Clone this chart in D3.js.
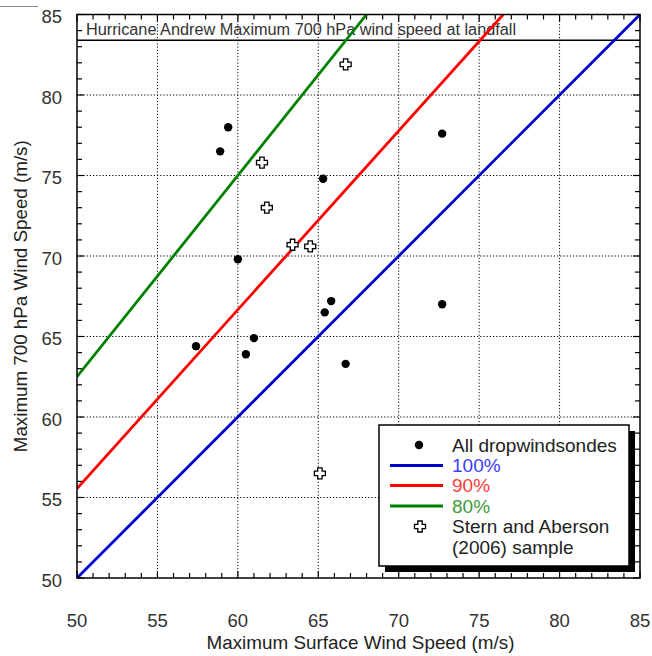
<!DOCTYPE html>
<html><head><meta charset="utf-8">
<script src="https://cdn.jsdelivr.net/npm/d3@7"></script>
<style>
html,body{margin:0;padding:0;background:#fff;}
svg{display:block;font-family:"Liberation Sans",Arial,sans-serif;}
</style></head>
<body><svg id="c" width="652" height="656"></svg>
<script>
// ---- data ----
const dropSurface = [57.4, 58.9, 59.4, 60.0, 60.5, 61.0, 65.3, 65.4, 65.8, 66.7, 72.7, 72.7];
const drop700     = [64.4, 76.5, 78.0, 69.8, 63.9, 64.9, 74.8, 66.5, 67.2, 63.3, 77.6, 67.0];
const sternSurface = [61.5, 61.8, 63.4, 64.5, 66.7, 65.1];
const stern700     = [75.8, 73.0, 70.7, 70.6, 81.9, 56.5];
const ratioValues = [1.0, 0.9, 0.8];
const ratioLabels = ["100%", "90%", "80%"];
const ratioColors = ["#0000cc", "#ff0000", "#008000"];
const ratioTextColors = ["#3c3cff", "#ff3c3c", "#3c9c3c"];
const andrewMax = 83.4;
const andrewLabel = "Hurricane Andrew Maximum 700 hPa wind speed at landfall";
const xTicks = [50, 55, 60, 65, 70, 75, 80, 85];
const yTicks = [50, 55, 60, 65, 70, 75, 80, 85];
const xTitle = "Maximum Surface Wind Speed (m/s)";
const yTitle = "Maximum 700 hPa Wind Speed (m/s)";
const legendLabels = ["All dropwindsondes", "Stern and Aberson", "(2006) sample"];

// ---- layout ----
const L = 77, R = 640, T = 14.5, B = 578;
const svg = d3.select("#c");
const x = d3.scaleLinear().domain([50, 85]).range([L, R]);
const y = d3.scaleLinear().domain([50, 85]).range([B, T]);

svg.append("defs").append("clipPath").attr("id", "clip")
  .append("rect").attr("x", L).attr("y", T).attr("width", R - L).attr("height", B - T);

// small stray line at top-left of the original image
svg.append("line").attr("x1", 0).attr("x2", 38).attr("y1", 6.5).attr("y2", 6.5)
  .attr("stroke", "#888").attr("stroke-width", 1);

// grid
svg.append("g").selectAll("line").data(xTicks.slice(1, -1)).join("line")
  .attr("x1", d => x(d)).attr("x2", d => x(d)).attr("y1", T).attr("y2", B)
  .attr("stroke", "#000").attr("stroke-width", 1).attr("stroke-dasharray", "1.2,2");
svg.append("g").selectAll("line").data(yTicks.slice(1, -1)).join("line")
  .attr("y1", d => y(d)).attr("y2", d => y(d)).attr("x1", L).attr("x2", R)
  .attr("stroke", "#000").attr("stroke-width", 1).attr("stroke-dasharray", "1.2,2");

// minor/major ticks inward on all sides
const minor = d3.range(50, 86, 1);
const tg = svg.append("g").attr("stroke", "#000").attr("stroke-width", 1.2);
minor.forEach(v => {
  const len = v % 5 === 0 ? 7 : 5;
  tg.append("line").attr("x1", x(v)).attr("x2", x(v)).attr("y1", B).attr("y2", B - len);
  tg.append("line").attr("x1", x(v)).attr("x2", x(v)).attr("y1", T).attr("y2", T + len);
  tg.append("line").attr("y1", y(v)).attr("y2", y(v)).attr("x1", L).attr("x2", L + len);
  tg.append("line").attr("y1", y(v)).attr("y2", y(v)).attr("x1", R).attr("x2", R - len);
});

// Andrew line + label
svg.append("line").attr("x1", L).attr("x2", R).attr("y1", y(andrewMax)).attr("y2", y(andrewMax))
  .attr("stroke", "#000").attr("stroke-width", 1.3);
svg.append("text").attr("x", 86).attr("y", 35).attr("font-size", 16).attr("fill", "#333")
  .attr("textLength", 430).attr("lengthAdjust", "spacingAndGlyphs").text(andrewLabel);

// ratio lines (surface = ratio * 700hPa  => 700 = surface / ratio)
const lg = svg.append("g").attr("clip-path", "url(#clip)");
ratioValues.forEach((r, i) => {
  const xs = [50, Math.min(85, 85 * r)];
  lg.append("line")
    .attr("x1", x(xs[0])).attr("y1", y(xs[0] / r))
    .attr("x2", x(xs[1])).attr("y2", y(xs[1] / r))
    .attr("stroke", ratioColors[i]).attr("stroke-width", 2.8);
});

// plus marker path
function plusPath(cx, cy) {
  const a = 2.2, b = 5.5;
  return `M${cx - a},${cy - b}H${cx + a}V${cy - a}H${cx + b}V${cy + a}H${cx + a}V${cy + b}H${cx - a}V${cy + a}H${cx - b}V${cy - a}H${cx - a}Z`;
}

// dots
svg.append("g").selectAll("circle").data(dropSurface).join("circle")
  .attr("cx", d => x(d)).attr("cy", (d, i) => y(drop700[i])).attr("r", 4.2).attr("fill", "#000");
// crosses
svg.append("g").selectAll("path").data(sternSurface).join("path")
  .attr("d", (d, i) => plusPath(x(d), y(stern700[i])))
  .attr("fill", "#fff").attr("stroke", "#000").attr("stroke-width", 1.3);

// plot border
svg.append("rect").attr("x", L).attr("y", T).attr("width", R - L).attr("height", B - T)
  .attr("fill", "none").attr("stroke", "#000").attr("stroke-width", 1.5);

// tick labels
svg.append("g").selectAll("text").data(xTicks).join("text")
  .attr("x", d => x(d)).attr("y", 627).attr("text-anchor", "middle")
  .attr("font-size", 18.5).attr("fill", "#333").text(d => d);
svg.append("g").selectAll("text").data(yTicks).join("text")
  .attr("x", 62).attr("y", d => y(d) + 2).attr("dy", "0.36em").attr("text-anchor", "end")
  .attr("font-size", 18.5).attr("fill", "#333").text(d => d);

// axis titles
svg.append("text").attr("x", (L + R) / 2 + 2).attr("y", 649).attr("text-anchor", "middle")
  .attr("font-size", 19).attr("fill", "#222")
  .attr("textLength", 308).attr("lengthAdjust", "spacingAndGlyphs").text(xTitle);
svg.append("text").attr("transform", `translate(27,${(T + B) / 2}) rotate(-90)`)
  .attr("text-anchor", "middle").attr("font-size", 19).attr("fill", "#222")
  .attr("textLength", 312).attr("lengthAdjust", "spacingAndGlyphs").text(yTitle);

// legend
const lx = 379, ly = 425, lw = 250, lh = 141;
svg.append("rect").attr("x", lx + 6).attr("y", ly + 6).attr("width", lw).attr("height", lh).attr("fill", "#000");
svg.append("rect").attr("x", lx).attr("y", ly).attr("width", lw).attr("height", lh)
  .attr("fill", "#fff").attr("stroke", "#000").attr("stroke-width", 1.5);
const rowY = [445, 465.5, 485.5, 506, 526.5, 547];
const tx = 452;
svg.append("circle").attr("cx", 419).attr("cy", rowY[0]).attr("r", 4.2).attr("fill", "#000");
svg.append("text").attr("x", tx).attr("y", rowY[0]).attr("dy", "0.36em").attr("font-size", 19)
  .attr("fill", "#222").text(legendLabels[0]);
ratioLabels.forEach((lab, i) => {
  svg.append("line").attr("x1", 390).attr("x2", 443).attr("y1", rowY[i + 1]).attr("y2", rowY[i + 1])
    .attr("stroke", ratioColors[i]).attr("stroke-width", 2.8);
  svg.append("text").attr("x", tx).attr("y", rowY[i + 1]).attr("dy", "0.36em").attr("font-size", 19)
    .attr("fill", ratioTextColors[i]).text(lab);
});
svg.append("path").attr("d", plusPath(420, rowY[4])).attr("fill", "#fff").attr("stroke", "#000").attr("stroke-width", 1.3);
svg.append("text").attr("x", tx).attr("y", rowY[4]).attr("dy", "0.36em").attr("font-size", 19)
  .attr("fill", "#222").text(legendLabels[1]);
svg.append("text").attr("x", tx).attr("y", rowY[5]).attr("dy", "0.36em").attr("font-size", 19)
  .attr("fill", "#222").text(legendLabels[2]);
</script></body></html>
